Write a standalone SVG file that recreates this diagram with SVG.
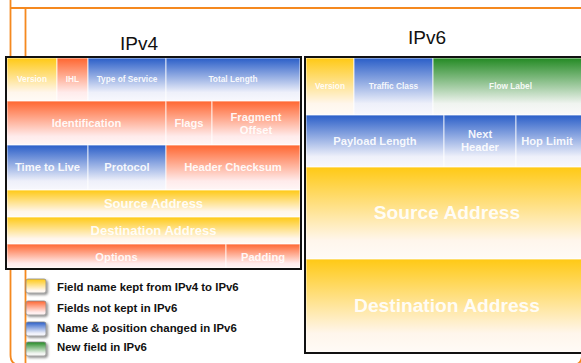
<svg xmlns="http://www.w3.org/2000/svg" width="581" height="363" viewBox="0 0 581 363">
<defs>
<linearGradient id="gY" x1="0" y1="0" x2="0" y2="1"><stop offset="0" stop-color="#FFC914"/><stop offset="0.8" stop-color="#FFF6EC"/><stop offset="1" stop-color="#FFFBF6"/></linearGradient>
<linearGradient id="gR" x1="0" y1="0" x2="0" y2="1"><stop offset="0" stop-color="#FF6630"/><stop offset="0.8" stop-color="#FFEBEB"/><stop offset="1" stop-color="#FFF6F6"/></linearGradient>
<linearGradient id="gB" x1="0" y1="0" x2="0" y2="1"><stop offset="0" stop-color="#2A5EC8"/><stop offset="0.8" stop-color="#EEF0FA"/><stop offset="1" stop-color="#F8F8FD"/></linearGradient>
<linearGradient id="gG" x1="0" y1="0" x2="0" y2="1"><stop offset="0" stop-color="#238A23"/><stop offset="0.8" stop-color="#F0F4F0"/><stop offset="1" stop-color="#FAFAFA"/></linearGradient>
<filter id="sh" x="-30%" y="-30%" width="170%" height="170%"><feDropShadow dx="1.5" dy="1.5" stdDeviation="0.8" flood-color="#000" flood-opacity="0.45"/></filter>
</defs>
<style>
.frame{fill:none;stroke:#F5891F;stroke-width:1.8}
.c{stroke:#fff;stroke-opacity:0.75;stroke-width:1}
.y{fill:url(#gY)}.r{fill:url(#gR)}.b{fill:url(#gB)}.g{fill:url(#gG)}
text{font-family:"Liberation Sans",Arial,sans-serif}
.t{fill:#fff;fill-opacity:0.92;font-weight:bold;text-anchor:middle}
.s8{font-size:8.3px}.s11{font-size:11.2px}.s13{font-size:13px}.s19{font-size:19.2px}
.title{font-size:19px;fill:#111;text-anchor:middle}
.border{fill:none;stroke:#111;stroke-width:2}
.sw{stroke:#8a8a8a;stroke-width:0.8;filter:url(#sh)}
.lg{font-size:11.4px;font-weight:bold;fill:#111}
</style>
<rect width="581" height="363" fill="#fff"/>
<g id="frame">
<path class="frame" d="M10.5,-10 V355 Q10.5,365 20.5,365 H572 Q582,365 582,355 V-10"/>
<path class="frame" d="M10.5,8 H590"/>
<path class="frame" d="M25.5,8 V370"/>
</g>
<text class="title" x="139" y="50">IPv4</text>
<text class="title" x="427" y="44">IPv6</text>
<g id="ipv4">
<g id="v4-version"><rect class="c y" x="7" y="58" width="50" height="43"/><text class="t s8" x="32" y="82">Version</text></g>
<g id="v4-ihl"><rect class="c r" x="57" y="58" width="31" height="43"/><text class="t s8" x="72.5" y="82">IHL</text></g>
<g id="v4-tos"><rect class="c b" x="88" y="58" width="78" height="43"/><text class="t s8" x="127" y="82">Type of Service</text></g>
<g id="v4-totlen"><rect class="c b" x="166" y="58" width="134" height="43"/><text class="t s8" x="233" y="82">Total Length</text></g>
<g id="v4-ident"><rect class="c r" x="7" y="101" width="159" height="44"/><text class="t s11" x="86.5" y="127">Identification</text></g>
<g id="v4-flags"><rect class="c r" x="166" y="101" width="46" height="44"/><text class="t s11" x="189" y="127">Flags</text></g>
<g id="v4-frag"><rect class="c r" x="212" y="101" width="88" height="44"/><text class="t s11" x="256" y="121">Fragment</text><text class="t s11" x="256" y="134">Offset</text></g>
<g id="v4-ttl"><rect class="c b" x="7" y="145" width="81" height="45"/><text class="t s11" x="47.5" y="171">Time to Live</text></g>
<g id="v4-proto"><rect class="c b" x="88" y="145" width="78" height="45"/><text class="t s11" x="127" y="171">Protocol</text></g>
<g id="v4-cksum"><rect class="c r" x="166" y="145" width="134" height="45"/><text class="t s11" x="233" y="171">Header Checksum</text></g>
<g id="v4-src"><rect class="c y" x="7" y="190" width="293" height="27"/><text class="t s13" x="153.5" y="208">Source Address</text></g>
<g id="v4-dst"><rect class="c y" x="7" y="217" width="293" height="27"/><text class="t s13" x="153.5" y="235">Destination Address</text></g>
<g id="v4-opt"><rect class="c r" x="7" y="244" width="219" height="24"/><text class="t s11" x="116.5" y="261">Options</text></g>
<g id="v4-pad"><rect class="c r" x="226" y="244" width="74" height="24"/><text class="t s11" x="263" y="261">Padding</text></g>
<rect class="border" x="6" y="57" width="295" height="212"/>
</g>
<g id="ipv6">
<g id="v6-version"><rect class="c y" x="306" y="58" width="48" height="57"/><text class="t s8" x="330" y="89">Version</text></g>
<g id="v6-tc"><rect class="c b" x="354" y="58" width="79" height="57"/><text class="t s8" x="393.5" y="89">Traffic Class</text></g>
<g id="v6-flow"><rect class="c g" x="433" y="58" width="155" height="57"/><text class="t s8" x="510.5" y="89">Flow Label</text></g>
<g id="v6-plen"><rect class="c b" x="306" y="115" width="138" height="52"/><text class="t s11" x="375" y="145">Payload Length</text></g>
<g id="v6-nh"><rect class="c b" x="444" y="115" width="72" height="52"/><text class="t s11" x="480" y="138">Next</text><text class="t s11" x="480" y="151">Header</text></g>
<g id="v6-hop"><rect class="c b" x="516" y="115" width="72" height="52"/><text class="t s11" x="547" y="145">Hop Limit</text></g>
<g id="v6-src"><rect class="c y" x="306" y="167" width="282" height="92"/><text class="t s19" x="447" y="219">Source Address</text></g>
<g id="v6-dst"><rect class="c y" x="306" y="259" width="282" height="93"/><text class="t s19" x="447" y="312">Destination Address</text></g>
<rect class="border" x="305" y="57" width="290" height="296"/>
</g>
<g id="legend">
<g id="lg-kept"><rect class="sw y" x="26" y="279" width="20" height="14" rx="2"/><text class="lg" x="57" y="291">Field name kept from IPv4 to IPv6</text></g>
<g id="lg-notkept"><rect class="sw r" x="26" y="301" width="20" height="14" rx="2"/><text class="lg" x="57" y="312">Fields not kept in IPv6</text></g>
<g id="lg-changed"><rect class="sw b" x="26" y="322" width="20" height="14" rx="2"/><text class="lg" x="57" y="332">Name &amp; position changed in IPv6</text></g>
<g id="lg-new"><rect class="sw g" x="26" y="342" width="20" height="14" rx="2"/><text class="lg" x="57" y="351">New field in IPv6</text></g>
</g>
</svg>
